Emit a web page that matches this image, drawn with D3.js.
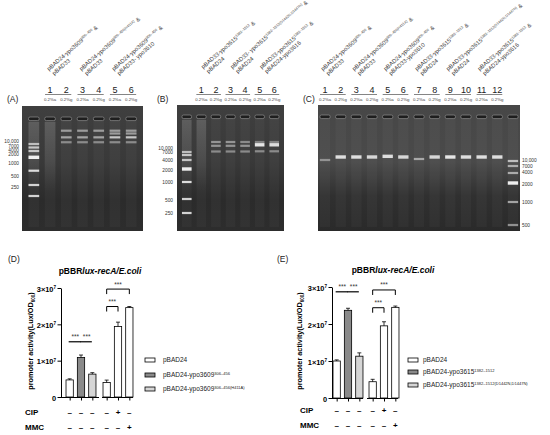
<!DOCTYPE html>
<html>
<head>
<meta charset="utf-8">
<script src="https://cdn.jsdelivr.net/npm/d3@7"></script>
<style>
  body { margin: 0; background: #fff; }
  svg { display: block; font-family: 'Liberation Sans', Arial, sans-serif; }
</style>
</head>
<body>
<div id="fig"></div>
<script>
// ---------- gel data ----------
const ladderAB = [10000, 7000, 4000, 2000, 1000, 500, 250]
const ladderABglow = [0.7, 0.75, 0.75, 1, 0.9, 0.85, 0.85]
const ladderC = [10000, 7000, 4000, 2000, 1000, 500]
const ladderCglow = [0.7, 0.6, 0.6, 1, 0.6, 0.5]
const lanesAB = ['1', '2', '3', '4', '5', '6']
const lanesC = ['1', '2', '3', '4', '5', '6', '7', '8', '9', '10', '11', '12']
const mediaTags = ['0.2%a', '0.2%g']

const pairsA = [
  ['pBAD24-ypo3609^{306–456} &', 'pBAD33'],
  ['pBAD24-ypo3609^{306–456(H411A)} &', 'pBAD33'],
  ['pBAD24-ypo3609^{306–456} &', 'pBAD33- ypo3610']
]
const pairsB = [
  ['pBAD33-ypo3615^{1382–1512} &', 'pBAD24'],
  ['pBAD33- ypo3615^{1382–1512(D1442N,D1447N)} &', 'pBAD24'],
  ['pBAD33-ypo3615^{1382–1512} &', 'pBAD24-ypo3616']
]
const pairsC = [
  ['pBAD24-ypo3609^{306–456} &', 'pBAD33'],
  ['pBAD24-ypo3609^{306–456(H411A)} &', 'pBAD33'],
  ['pBAD24-ypo3609^{306–456} &', 'pBAD33-ypo3610'],
  ['pBAD33-ypo3615^{1382–1512} &', 'pBAD24'],
  ['pBAD33-ypo3615^{1382–1512(D1442N,D1447N)} &', 'pBAD24'],
  ['pBAD33-ypo3615^{1382–1512} &', 'pBAD24-ypo3616']
]

// [lane, apparent size (bp), intensity]
const bandsA = [
  ['2', 21400, 0.55], ['2', 15700, 0.6], ['2', 11500, 0.45],
  ['3', 21400, 0.55], ['3', 15700, 0.6], ['3', 11500, 0.45],
  ['4', 21400, 0.55], ['4', 15700, 0.6], ['4', 11500, 0.45],
  ['5', 21400, 0.55], ['5', 19000, 0.55], ['5', 15700, 0.8], ['5', 11500, 0.45],
  ['6', 21400, 0.55], ['6', 19000, 0.55], ['6', 15700, 0.8], ['6', 11500, 0.45]
]
const bandsB = [
  ['2', 20000, 0.5], ['2', 16200, 0.5], ['2', 10500, 0.45],
  ['3', 20000, 0.5], ['3', 16200, 0.5], ['3', 10500, 0.45],
  ['4', 20000, 0.45], ['4', 16200, 0.5], ['4', 10500, 0.45],
  ['5', 20000, 0.4], ['5', 17200, 1], ['5', 10700, 0.45],
  ['6', 20000, 0.4], ['6', 17200, 0.95], ['6', 10700, 0.45]
]
const bandsC = [
  ['1', 10600, 0.45], ['2', 12400, 0.95], ['3', 12400, 0.95], ['4', 12400, 0.9],
  ['5', 12800, 0.95], ['6', 12400, 0.9], ['7', 11200, 0.6], ['8', 12400, 0.9],
  ['9', 12400, 1], ['10', 12400, 0.95], ['11', 12400, 0.95], ['12', 12400, 0.95]
]
const smearA = ['M', '1']
const smearB = ['M', '1']

// ---------- bar chart data ----------
const yTicks = [0, 1e7, 2e7, 3e7]
const seriesD = ['pBAD24', 'pBAD24-ypo3609^{306–456}', 'pBAD24-ypo3609^{306–456(H411A)}']
const valuesD = [4.7e6, 1.09e7, 6.3e6, 4.0e6, 1.94e7, 2.46e7]
const errorsD = [3e5, 6.5e5, 4e5, 6.5e5, 1.2e6, 3e5]
const seriesE = ['pBAD24', 'pBAD24-ypo3615^{1382–1512}', 'pBAD24-ypo3615^{1382–1512(D1442N,D1447N)}']
const valuesE = [1.0e7, 2.37e7, 1.13e7, 4.4e6, 1.95e7, 2.45e7]
const errorsE = [3e5, 5.5e5, 9e5, 6.5e5, 1.1e6, 3.5e5]
const barSeries = [0, 1, 2, 0, 0, 0]
const cipSigns = ['–', '–', '–', '–', '+', '–']
const mmcSigns = ['–', '–', '–', '–', '–', '+']
// [from, to, level, kind]
const sigD = [[0, 1, 1.52e7, 'line'], [1, 2, 1.52e7, 'line'], [3, 4, 2.49e7, 'bracket'], [3, 5, 2.97e7, 'bracket']]
const sigE = [[0, 1, 2.87e7, 'line'], [1, 2, 2.87e7, 'line'], [3, 4, 2.44e7, 'bracket'], [3, 5, 2.92e7, 'bracket']]

const svg = d3.select('#fig').append('svg')
  .attr('width', 550)
  .attr('height', 435)

const defs = svg.append('defs')
defs.append('filter').attr('id', 'blur')
  .attr('x', '-30%').attr('y', '-150%').attr('width', '160%').attr('height', '400%')
  .append('feGaussianBlur').attr('stdDeviation', 0.6)

function vGradient (id, stops) {
  const lg = defs.append('linearGradient').attr('id', id)
    .attr('x1', 0).attr('y1', 0).attr('x2', 0).attr('y2', 1)
  lg.selectAll('stop').data(stops).join('stop')
    .attr('offset', d => d[0])
    .attr('stop-color', d => d[1])
    .attr('stop-opacity', d => d[2] === undefined ? 1 : d[2])
}
vGradient('gelAB', [[0, '#3f3f3f'], [0.45, '#393939'], [0.75, '#2b2b2b'], [1, '#2d2d2d']])
vGradient('gelC', [[0, '#474747'], [0.45, '#4a4a4a'], [0.72, '#303030'], [1, '#2a2a2a']])
vGradient('smear', [[0, '#fff', 0.14], [0.55, '#fff', 0.07], [1, '#fff', 0]])

/**
 * Writes a string with ^{..} superscripts and _{..} subscripts into a text node.
 */
function richText (text, str, size) {
  const parts = str.split(/(\^\{[^}]*\}|_\{[^}]*\})/).filter(s => s.length)
  let shift = 0
  parts.forEach(p => {
    const t = text.append('tspan')
    if (p.startsWith('^{') || p.startsWith('_{')) {
      const s = p.startsWith('^') ? -size * 0.38 : size * 0.25
      t.text(p.slice(2, -1)).attr('font-size', size * 0.62).attr('dy', s - shift)
      shift = s
    } else {
      t.text(p).attr('font-size', size)
      if (shift) t.attr('dy', -shift)
      shift = 0
    }
  })
  return text
}

/**
 * Draws one agarose gel with its labels.
 */
function drawGel (L, lanes, ladder, glow, bands, smears, pairs) {
  const g = svg.append('g')
  const domain = L.ladderFirst ? ['M'].concat(lanes) : lanes.concat(['M'])
  const x = d3.scalePoint().domain(domain).range([L.x0, L.x1]).padding(L.pad)
  const y = d3.scaleLinear().domain(ladder).range(L.ladderY)
  const yLab = d3.scaleLinear().domain(ladder).range(L.labelY)
  const bw = x.step() * 0.66

  g.append('rect')
    .attr('x', L.x0).attr('y', L.top)
    .attr('width', L.x1 - L.x0).attr('height', L.bottom - L.top)
    .attr('fill', `url(#${L.fill})`)

  // faint lane streaks
  g.selectAll('.streak').data(domain).join('rect')
    .attr('x', d => x(d) - bw / 2).attr('y', L.well)
    .attr('width', bw).attr('height', L.bottom - L.well - 4)
    .attr('fill', '#fff').attr('opacity', 0.03)

  g.selectAll('.smear').data(smears).join('rect')
    .attr('x', d => x(d) - bw / 2).attr('y', L.well + 3)
    .attr('width', bw).attr('height', (L.bottom - L.well) * 0.62)
    .attr('fill', 'url(#smear)')

  // wells
  g.selectAll('.well').data(domain).join('rect')
    .attr('x', d => x(d) - bw / 2).attr('y', L.well - 2)
    .attr('width', bw).attr('height', 3.6).attr('rx', 1.6)
    .attr('fill', '#1e1e1e').attr('stroke', '#8c8c8c').attr('stroke-width', 0.7)

  // ladder
  g.selectAll('.ladder').data(ladder).join('rect')
    .attr('x', x('M') - bw / 2)
    .attr('y', (d, i) => y(d) - (glow[i] > 0.95 ? 1.7 : 1.1))
    .attr('width', bw)
    .attr('height', (d, i) => glow[i] > 0.95 ? 3.4 : 2.2)
    .attr('fill', '#eee')
    .attr('opacity', (d, i) => glow[i])
    .attr('filter', 'url(#blur)')

  // sample bands
  g.selectAll('.band').data(bands).join('rect')
    .attr('x', d => x(d[0]) - bw / 2)
    .attr('y', d => y(d[1]) - (d[2] > 0.85 ? 1.7 : 1.1))
    .attr('width', bw)
    .attr('height', d => d[2] > 0.85 ? 3.4 : 2.2)
    .attr('fill', '#e6e6e6')
    .attr('opacity', d => d[2])
    .attr('filter', 'url(#blur)')

  // ladder labels
  g.selectAll('.ll').data(ladder).join('text')
    .attr('x', L.labelX)
    .attr('y', d => yLab(d) + 1.7)
    .attr('text-anchor', L.ladderFirst ? 'end' : 'start')
    .attr('font-size', 4.8)
    .attr('fill', '#333')
    .text(d => d === 10000 ? '10,000' : d)

  // lane numbers, media tags, underlines
  g.selectAll('.ln').data(lanes).join('text')
    .attr('x', d => x(d)).attr('y', 92.5)
    .attr('text-anchor', 'middle')
    .attr('font-size', 9)
    .attr('fill', '#222')
    .text(d => d)
  g.selectAll('.mt').data(lanes).join('text')
    .attr('x', d => x(d)).attr('y', 101)
    .attr('text-anchor', 'middle')
    .attr('font-size', 4.3)
    .attr('fill', '#444')
    .text((d, i) => mediaTags[i % 2])
  g.selectAll('.ul').data(pairs).join('line')
    .attr('x1', (d, i) => x(lanes[i * 2]) - 5)
    .attr('x2', (d, i) => x(lanes[i * 2 + 1]) + 5)
    .attr('y1', 94.5).attr('y2', 94.5)
    .attr('stroke', '#777').attr('stroke-width', 0.9)

  // rotated strain labels
  const lab = g.selectAll('.pl').data(pairs).join('g')
    .attr('transform', (d, i) => `translate(${x(lanes[i * 2]) + L.labDx},${L.labY}) rotate(-41)`)
  lab.each(function (d) {
    const s = d3.select(this)
    richText(s.append('text').attr('fill', '#3a3a3a'), d[0], 5.8)
    richText(s.append('text').attr('x', 1).attr('y', 6.8).attr('fill', '#3a3a3a'), d[1], 5.8)
  })

  svg.append('text')
    .attr('x', L.tagX).attr('y', 102)
    .attr('font-size', 8.5).attr('fill', '#222')
    .text(L.tag)
}

drawGel({ x0: 22, x1: 143, top: 106, bottom: 231, well: 119, pad: 0.73, ladderFirst: true, fill: 'gelAB',
  ladderY: [144, 147.5, 151, 157.3, 170.7, 185, 196], labelY: [141, 146, 150, 154, 163, 176, 187],
  labelX: 19, labDx: -1, labY: 71, tagX: 7, tag: '(A)' },
lanesAB, ladderAB, ladderABglow, bandsA, smearA, pairsA)

drawGel({ x0: 177, x1: 284, top: 105, bottom: 231, well: 117, pad: 0.67, ladderFirst: true, fill: 'gelAB',
  ladderY: [152, 155, 160, 169, 182, 199, 213], labelY: [148, 152, 160, 170, 182, 200, 213],
  labelX: 173, labDx: 2, labY: 69, tagX: 157, tag: '(B)' },
lanesAB, ladderAB, ladderABglow, bandsB, smearB, pairsB)

drawGel({ x0: 318, x1: 520, top: 105, bottom: 231, well: 117, pad: 0.45, ladderFirst: false, fill: 'gelC',
  ladderY: [161, 166, 173, 183, 202, 225], labelY: [160, 166, 172, 184, 202, 225],
  labelX: 522, labDx: -2, labY: 71, tagX: 303, tag: '(C)' },
lanesC, ladderC, ladderCglow, bandsC, [], pairsC)

/**
 * Draws one Prism-style bar panel.
 */
function drawBars (L, series, values, errors, sig) {
  const g = svg.append('g')
  const fills = ['#ffffff', '#8a8a8a', '#d6d6d6']
  const y = d3.scaleLinear().domain([0, 3e7]).range([L.y0, L.yTop])
  const xs = [
    d3.scalePoint().domain([0, 1, 2]).range(L.seg1).padding(0.5),
    d3.scalePoint().domain([3, 4, 5]).range(L.seg2).padding(0.5)
  ]
  const xOf = i => (i < 3 ? xs[0] : xs[1])(i)
  const bw = 7.3

  // y axis
  const ya = g.append('g')
    .attr('transform', `translate(${L.axisX},0)`)
    .call(d3.axisLeft(y).tickValues(yTicks).tickSize(3.5).tickSizeOuter(0))
  ya.selectAll('.tick text')
    .text(null)
    .attr('font-weight', 'bold')
    .attr('fill', '#000')
    .attr('x', -5)
    .each(function (d) {
      richText(d3.select(this), d === 0 ? '0' : `${d / 1e7}×10^{7}`, 7.4)
    })

  // broken x axis
  xs.forEach((s, k) => {
    const ext = k === 0 ? L.line1 : L.line2
    const xa = g.append('g')
      .attr('transform', `translate(0,${L.y0})`)
      .call(d3.axisBottom(s).tickSize(3.5).tickSizeOuter(0).tickFormat(''))
    xa.select('.domain').attr('d', `M${ext[0]},0.5H${ext[1]}`)
  })
  g.selectAll('.domain, .tick line').attr('stroke', '#000').attr('stroke-width', 1)

  // bars
  g.selectAll('.bar').data(values).join('rect')
    .attr('x', (d, i) => xOf(i) - bw / 2)
    .attr('y', d => y(d))
    .attr('width', bw)
    .attr('height', d => L.y0 - y(d))
    .attr('fill', (d, i) => fills[barSeries[i]])
    .attr('stroke', '#000').attr('stroke-width', 0.8)

  // error bars
  g.selectAll('.err').data(values).join('path')
    .attr('d', (d, i) => `M${xOf(i)},${y(d)}V${y(d + errors[i])}M${xOf(i) - 2},${y(d + errors[i])}H${xOf(i) + 2}`)
    .attr('stroke', '#000').attr('stroke-width', 0.8).attr('fill', 'none')

  // significance marks
  sig.forEach(([a, b, lv, kind]) => {
    const yl = y(lv)
    if (kind === 'line') {
      g.append('line')
        .attr('x1', xOf(a) - 1).attr('x2', xOf(b) - 0.5)
        .attr('y1', yl).attr('y2', yl)
        .attr('stroke', '#000').attr('stroke-width', 1.2)
    } else {
      g.append('path')
        .attr('d', `M${xOf(a)},${yl + 5}V${yl}H${xOf(b)}V${yl + 5}`)
        .attr('stroke', '#000').attr('stroke-width', 1).attr('fill', 'none')
    }
    g.append('text')
      .attr('x', (xOf(a) + xOf(b)) / 2).attr('y', yl - 2.5)
      .attr('text-anchor', 'middle')
      .attr('font-size', 6.5).attr('fill', '#333')
      .text('***')
  })

  // title, axis label, panel tag
  const title = g.append('text')
    .attr('x', L.titleX).attr('y', L.titleY)
    .attr('text-anchor', 'middle')
    .attr('font-size', 8.5).attr('font-weight', 'bold')
  title.append('tspan').text('pBBR')
  title.append('tspan').text('lux-recA/E.coli').attr('font-style', 'italic')

  richText(g.append('text')
    .attr('transform', `translate(${L.ylabX},${L.ylabY}) rotate(-90)`)
    .attr('text-anchor', 'middle')
    .attr('font-weight', 'bold'), 'promoter activity(Lux/OD_{600})', 7.3)

  g.append('text')
    .attr('x', L.tagX).attr('y', 262)
    .attr('font-size', 8.5).attr('fill', '#222')
    .text(L.tag)

  // legend
  const lg = g.selectAll('.lg').data(series).join('g')
    .attr('transform', (d, i) => `translate(${L.legX},${L.legY[i]})`)
  lg.append('rect')
    .attr('x', 0).attr('y', -2).attr('width', 10).attr('height', 4)
    .attr('fill', (d, i) => fills[i])
    .attr('stroke', '#000').attr('stroke-width', 0.8)
  lg.each(function (d) {
    richText(d3.select(this).append('text').attr('x', L.legTextDx).attr('y', 2.3).attr('fill', '#222'), d, 6.5)
  })

  // treatment rows
  const rows = [['CIP', cipSigns, L.cipY], ['MMC', mmcSigns, L.mmcY]]
  rows.forEach(([name, signs, ry]) => {
    g.append('text')
      .attr('x', L.rowX).attr('y', ry)
      .attr('font-size', 8).attr('font-weight', 'bold')
      .text(name)
    g.selectAll(null).data(signs).join('text')
      .attr('x', (d, i) => xOf(i)).attr('y', ry)
      .attr('text-anchor', 'middle')
      .attr('font-size', 8).attr('font-weight', 'bold')
      .text(d => d)
  })
}

drawBars({ axisX: 61, y0: 397, yTop: 288, seg1: [64, 98], seg2: [101, 135], line1: [61, 99], line2: [102, 133],
  titleX: 100, titleY: 274, ylabX: 33, ylabY: 341, tagX: 8, tag: '(D)',
  legX: 145, legY: [360, 375, 389], legTextDx: 18, cipY: 415, mmcY: 430, rowX: 25 },
seriesD, valuesD, errorsD, sigD)

drawBars({ axisX: 332, y0: 398, yTop: 287, seg1: [331, 365], seg2: [367, 401], line1: [332, 363], line2: [367, 398],
  titleX: 393, titleY: 273, ylabX: 302, ylabY: 341, tagX: 277, tag: '(E)',
  legX: 408, legY: [360, 372, 385], legTextDx: 15, cipY: 413, mmcY: 428, rowX: 300 },
seriesE, valuesE, errorsE, sigE)
</script>
</body>
</html>
